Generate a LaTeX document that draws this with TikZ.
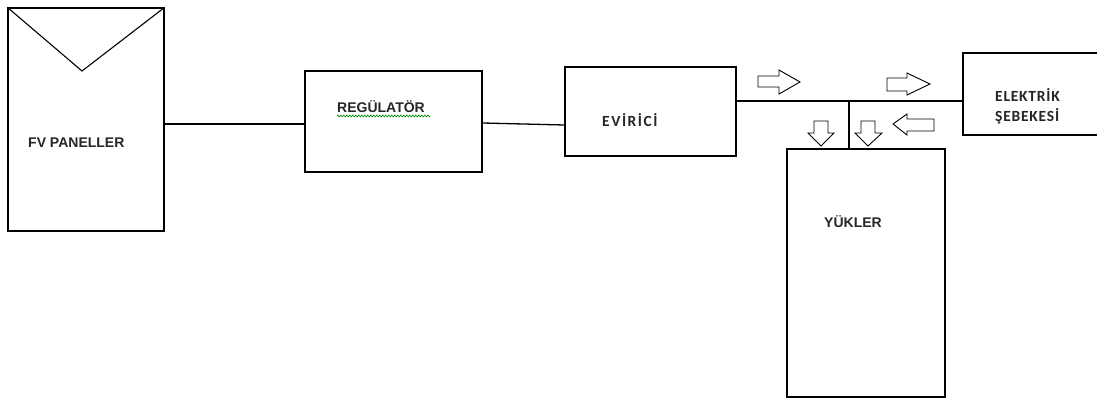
\documentclass[tikz,border=0pt]{standalone}
\usepackage{fontspec}
\setmainfont{Liberation Sans}
\newfontfamily\calA{Carlito}[LetterSpace=10]
\newfontfamily\calB{Carlito}[LetterSpace=5]
\usetikzlibrary{decorations.pathmorphing}
\begin{document}
\begin{tikzpicture}[x=1pt,y=-1pt,
  box/.style={draw,line width=1.3pt,inner sep=0pt,minimum width=#1},
  lab/.style={anchor=base west,inner sep=0pt,font=\bfseries\fontsize{14}{16}\selectfont,text=black!85},
  clab/.style={anchor=base west,inner sep=0pt,text=black!85},
  wire/.style={line width=1.3pt},
  barrow/.style={line width=0.9pt,line join=miter}]
\useasboundingbox[fill=white] (0,0) rectangle (1097,398);
% boxes
\node[box=156pt,minimum height=223pt] (fv) at (86,119.5) {};
\node[box=177pt,minimum height=101pt] (reg) at (393.5,121.5) {};
\node[box=171pt,minimum height=89pt] (ev) at (650.5,111.5) {};
\node[box=138pt,minimum height=82pt] (el) at (1032,94) {};
\node[box=158pt,minimum height=248pt] (yuk) at (866,273) {};
% panel V
\draw[line width=1.1pt] (fv.north west) -- (82,71) -- (fv.north east);
% labels
\node[lab] (tfv) at (28,148) {FV PANELLER};
\node[lab] (treg) at (337,113) {REGÜLATÖR};
\draw[green!55!black,line width=0.6pt,decorate,decoration={zigzag,amplitude=1pt,segment length=3pt}] (treg.base west)++(0,3) -- ++(93,0);
\node[clab,font=\calA\bfseries\fontsize{15.5}{18}\selectfont] (tev) at (602,127) {EVİRİCİ};
\node[clab,font=\calB\bfseries\fontsize{15.5}{18}\selectfont] (tel1) at (995,102) {ELEKTRİK};
\node[clab,font=\calB\bfseries\fontsize{15.5}{18}\selectfont] (tel2) at (995,122) {ŞEBEKESİ};
\node[lab] (tyuk) at (824,227) {YÜKLER};
% connectors
\draw[wire] (fv.east |- 0,124) -- (reg.west |- 0,124);
\draw[wire] (reg.east |- 0,123) -- (ev.west |- 0,125);
\draw[wire] (ev.east |- 0,101) -- (el.west |- 0,101);
\coordinate (j) at (849,101);
\draw[wire] (j) -- (yuk.north -| j);
% block arrows
\draw[barrow] (758,76) -- (779,76) -- (779,70) -- (800,82) -- (779,94) -- (779,87) -- (758,87) -- cycle;
\draw[barrow] (887,78) -- (907,78) -- (907,73) -- (930,84) -- (907,95) -- (907,91) -- (887,91) -- cycle;
\draw[barrow] (934,119) -- (907,119) -- (907,114) -- (893,124) -- (907,135) -- (907,131) -- (934,131) -- cycle;
\draw[barrow] (814,121) -- (814,133) -- (808,133) -- (821,146) -- (834,133) -- (828,133) -- (828,121) -- cycle;
\draw[barrow] (861,121) -- (861,133) -- (855,133) -- (868,146) -- (882,133) -- (875,133) -- (875,121) -- cycle;
\end{tikzpicture}
\end{document}
